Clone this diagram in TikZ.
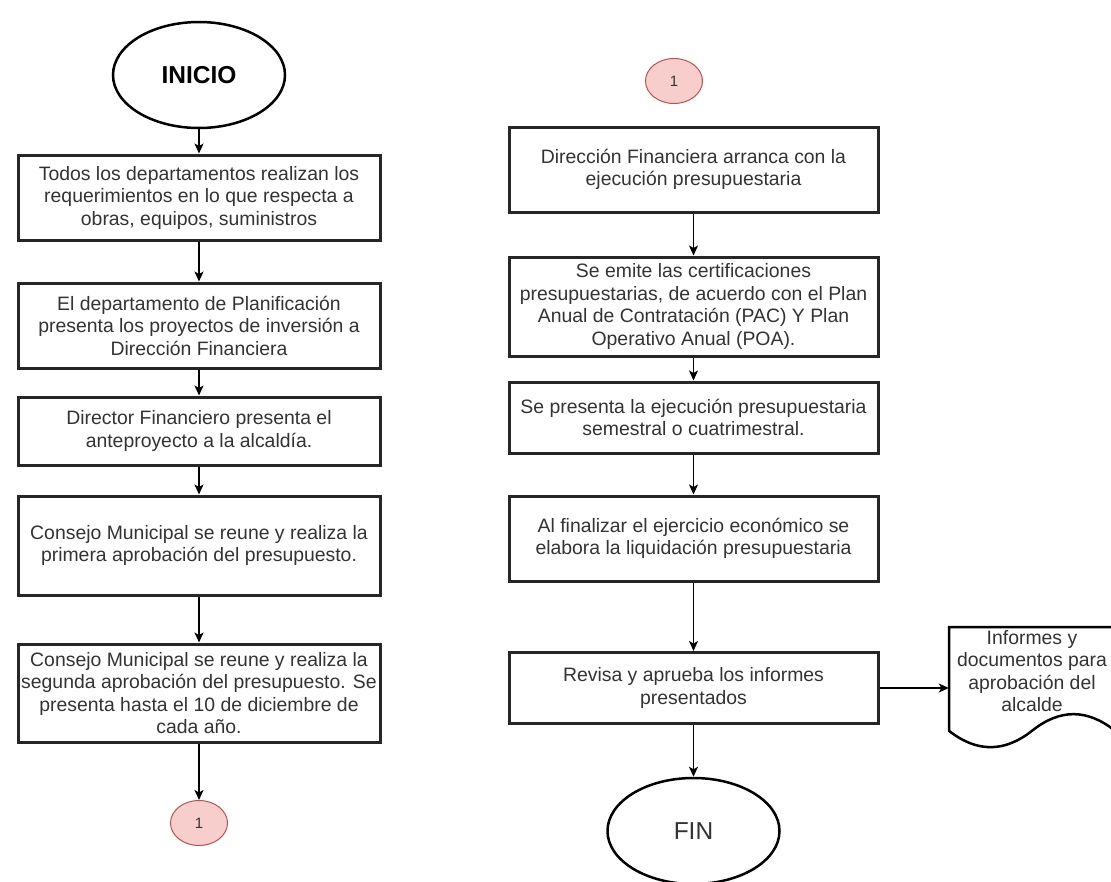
\documentclass[tikz,border=0pt]{standalone}
\usepackage{fontspec}
\setmainfont{Liberation Sans}
\usetikzlibrary{shapes.geometric,arrows.meta}
\definecolor{txtgray}{HTML}{333333}
\definecolor{conffill}{HTML}{F8CECC}
\definecolor{confline}{HTML}{B85450}
\def\docshape{(949,627) -- (1115,627) -- (1115,730.8) .. controls (1087.3,708.6) and (1059.7,708.6) .. (1032,730.8) .. controls (1004.3,752.6) and (976.7,752.6) .. (949,730.8) -- cycle}

\begin{document}
\begin{tikzpicture}[x=1pt,y=-1pt,
  every node/.style={font=\fontsize{19.4}{22.5}\selectfont, text=txtgray, align=center, inner sep=0pt},
  proc/.style={draw=black!85, line width=3pt, fill=white, minimum width=362pt},
  procr/.style={proc, minimum width=369pt},
  term/.style={ellipse, draw=black, line width=2.5pt, minimum width=172pt, minimum height=106pt, font=\fontsize{24.5}{28}\selectfont},
  conn/.style={ellipse, draw=confline, fill=conffill, line width=1pt, minimum width=57pt, minimum height=45pt, font=\fontsize{15}{17}\selectfont},
  arr/.style={-{Stealth[length=10pt,width=9pt,inset=2.5pt]}, line width=1.5pt, draw=black}]
\useasboundingbox (0,0) rectangle (1111,881);

\node[term, font=\fontsize{24.5}{28}\selectfont\bfseries, text=black] (inicio) at (199,75) {INICIO};
\node[proc, minimum height=85pt] (req) at (199,197.5) {Todos los departamentos realizan los\\requerimientos en lo que respecta a\\obras, equipos, suministros};
\node[proc, minimum height=85pt] (plan) at (199,325.5) {El departamento de Planificación\\presenta los proyectos de inversión a\\Dirección Financiera};
\node[proc, minimum height=68pt] (antep) at (199,431) {Director Financiero presenta el\\anteproyecto a la alcaldía.};
\node[proc, minimum height=99pt] (aprob1) at (199,545.5) {Consejo Municipal se reune y realiza la\\primera aprobación del presupuesto.};
\node[proc, minimum height=98pt] (aprob2) at (199,693) {Consejo Municipal se reune y realiza la\\segunda aprobación del presupuesto. Se\\presenta hasta el 10 de diciembre de\\cada año.};
\node[conn] (con1) at (199,823) {1};

\node[conn] (con2) at (674,81) {1};
\node[procr, minimum height=85pt] (ejec) at (693.5,169.5) {Dirección Financiera arranca con la\\ejecución presupuestaria};
\node[procr, minimum height=99pt] (cert) at (693.5,306.5) {Se emite las certificaciones\\presupuestarias, de acuerdo con el Plan\\Anual de Contratación (PAC) Y Plan\\Operativo Anual (POA).};
\node[procr, minimum height=71pt] (sem) at (693.5,417.5) {Se presenta la ejecución presupuestaria\\semestral o cuatrimestral.};
\node[procr, minimum height=85pt] (liq) at (693.5,538.5) {Al finalizar el ejercicio económico se\\elabora la liquidación presupuestaria};
\node[procr, minimum height=71pt] (rev) at (693.5,688) {Revisa y aprueba los informes\\presentados};
\node[term] (fin) at (693.5,831) {FIN};

\draw[line width=2.5pt, fill=white] \docshape;
\node[minimum width=166pt] (doc) at (1032,671) {Informes y\\documentos para\\aprobación del\\alcalde};

\draw[arr] (inicio) -- (req);
\draw[arr] (req) -- (plan);
\draw[arr] (plan) -- (antep);
\draw[arr] (antep) -- (aprob1);
\draw[arr] (aprob1) -- (aprob2);
\draw[arr] (aprob2) -- (con1);

\draw[arr] (ejec) -- (cert);
\draw[arr] (cert) -- (sem);
\draw[arr] (sem) -- (liq);
\draw[arr] (liq) -- (rev);
\draw[arr] (rev) -- (fin);
\draw[arr] (rev.east) -- (rev.east -| doc.west);
\end{tikzpicture}
\end{document}
